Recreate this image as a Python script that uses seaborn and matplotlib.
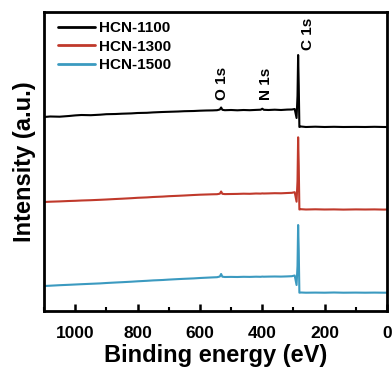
import matplotlib
matplotlib.use("Agg")
import matplotlib.pyplot as plt
import seaborn as sns
import pandas as pd
from matplotlib.ticker import MultipleLocator

# Binding energies (eV) sampled along the survey spectra
energy = [1100, 1080, 1050, 1020, 1000, 980, 950, 920, 900, 870, 850, 820, 800, 770,
          750, 720, 700, 670, 650, 620, 600, 580, 560, 545, 536, 532, 528, 520, 500,
          480, 460, 440, 420, 405, 400, 395, 380, 360, 340, 320, 305, 296, 290, 287,
          285, 283, 281, 276, 260, 230, 200, 170, 140, 100, 70, 40, 10, 0]

# Intensities (a.u., stacked with offsets as in the figure)
hcn_1100 = [194, 194.5, 194.3, 195, 195.6, 196, 195.8, 196.3, 196.8, 197, 197.3, 197.6,
            198, 198.2, 198.6, 199, 199.2, 199.5, 199.8, 200, 200.3, 200.5, 200.6, 200.8,
            201.5, 203.5, 201.2, 200.8, 201, 200.7, 201, 200.8, 201.1, 201.3, 202.3, 201.2,
            201, 201.3, 201, 201.4, 201.5, 202, 193, 215, 256, 225, 184, 184.5, 184, 184.3,
            184, 184.2, 184, 184.1, 184, 184.2, 184, 184]
hcn_1300 = [109, 109.3, 109.6, 110, 110.2, 110.5, 110.8, 111.2, 111.5, 112, 112.3, 112.8,
            113.2, 113.6, 114, 114.4, 114.8, 115.2, 115.5, 116, 116.3, 116.5, 116.7, 116.8,
            117.3, 119.5, 117.2, 116.9, 117, 117.1, 117.3, 117.2, 117.5, 117.4, 117.6, 117.5,
            117.6, 117.8, 117.7, 118, 118.2, 118.8, 109.3, 130, 173.7, 145, 101.5, 101.8,
            101.5, 101.7, 101.5, 101.6, 101.4, 101.6, 101.5, 101.6, 101.4, 101.5]
hcn_1500 = [25, 25.3, 25.8, 26.2, 26.5, 26.8, 27.2, 27.6, 28, 28.5, 28.8, 29.3, 29.7, 30.2,
            30.6, 31, 31.4, 31.9, 32.2, 32.6, 33, 33.3, 33.6, 33.8, 34.5, 37, 34.3, 34, 34.1,
            34, 34.2, 34.1, 34.3, 34.2, 34.4, 34.3, 34.4, 34.5, 34.4, 34.6, 34.8, 35.5, 26,
            45, 86, 60, 18.3, 18.5, 18.3, 18.4, 18.3, 18.5, 18.3, 18.4, 18.3, 18.4, 18.3, 18.3]

samples = ["HCN-1100", "HCN-1300", "HCN-1500"]
colors = ["#000000", "#c0392b", "#3b9ac0"]

peak_labels = ["O 1s", "N 1s", "C 1s"]
peak_label_x = [529, 388, 253]
peak_label_y = [211, 211, 261]

xticks = [1000, 800, 600, 400, 200, 0]

df = pd.concat([
    pd.DataFrame({"energy": energy, "intensity": vals, "sample": name})
    for name, vals in zip(samples, [hcn_1100, hcn_1300, hcn_1500])
], ignore_index=True)

sns.set_style("ticks")
plt.rcParams["font.family"] = ["Liberation Sans", "DejaVu Sans"]
plt.rcParams["font.weight"] = "bold"
plt.rcParams["text.color"] = "black"
plt.rcParams["axes.labelcolor"] = "black"
plt.rcParams["axes.edgecolor"] = "black"
plt.rcParams["xtick.color"] = "black"
plt.rcParams["ytick.color"] = "black"

fig = plt.figure(figsize=(3.92, 3.69), dpi=100)
ax = fig.add_axes([44/392, 58/369, 343/392, 299/369])

sns.lineplot(data=df, x="energy", y="intensity", hue="sample", palette=colors,
             sort=False, estimator=None, linewidth=1.5, ax=ax)

ax.set_xlim(1100, 0)
ax.set_ylim(0, 299)
ax.set_xticks(xticks)
ax.xaxis.set_minor_locator(MultipleLocator(100))
ax.set_yticks([])
ax.tick_params(axis="x", which="major", direction="in", length=5, width=1.8,
               labelsize=12.5, pad=11, colors="black")
ax.tick_params(axis="x", which="minor", direction="in", length=3, width=1.5,
               colors="black")
for lab in ax.get_xticklabels():
    lab.set_fontweight("bold")
for sp in ax.spines.values():
    sp.set_linewidth(2)
    sp.set_color("black")
    sp.set_visible(True)

ax.set_xlabel("Binding energy (eV)", fontsize=17, fontweight="bold", labelpad=2,
              color="black")
ax.set_ylabel("Intensity (a.u.)", fontsize=17, fontweight="bold", labelpad=6,
              color="black")

for t, x, y in zip(peak_labels, peak_label_x, peak_label_y):
    ax.text(x, y, t, rotation=90, ha="center", va="bottom", fontsize=11,
            fontweight="bold", color="black")

leg = ax.legend(loc="upper left", bbox_to_anchor=(0.041, 0.970), frameon=False,
                prop={"size": 11, "weight": "bold"}, handlelength=2.45,
                handletextpad=0.25, labelspacing=0.3, borderpad=0, borderaxespad=0)
for txt in leg.get_texts():
    txt.set_color("black")
for line in leg.get_lines():
    line.set_linewidth(2)

fig.savefig("out.png", dpi=100)
